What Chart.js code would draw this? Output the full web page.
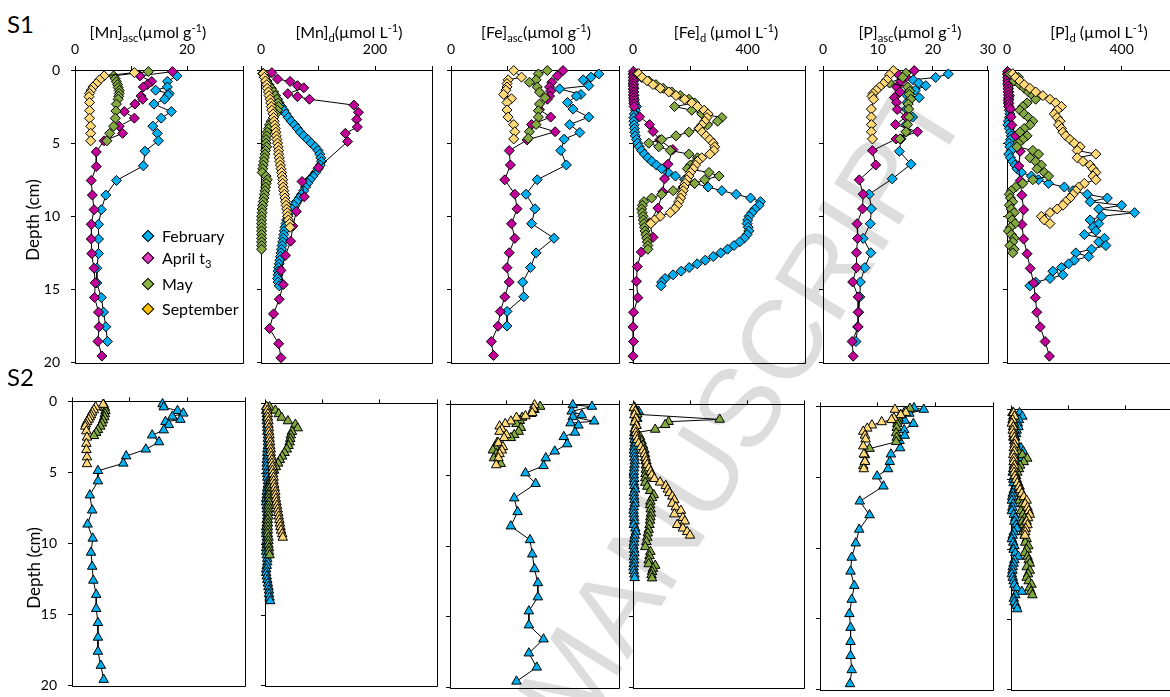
<!DOCTYPE html>
<html>
<head>
<meta charset="utf-8">
<script src="https://cdn.jsdelivr.net/npm/chart.js@4.4.1/dist/chart.umd.min.js"></script>
<style>
  html, body { margin: 0; padding: 0; background: #fff; }
  body { width: 1170px; height: 697px; position: relative; overflow: hidden; font-family: Lato, 'Open Sans', sans-serif; color: #000; }
  canvas { position: absolute; z-index: 1; }
  .lbl { position: absolute; z-index: 2; white-space: nowrap; line-height: 1; }
  .title { font-size: 16px; transform: translate(-50%, -50%); }
  .site { font-size: 24px; transform: translateY(-50%); }
  .depth { font-size: 17px; transform: translate(-50%, -50%) rotate(-90deg); }
  .legend { font-size: 16px; transform: translateY(-50%); }
  .mk { position: absolute; z-index: 2; width: 7px; height: 7px; border: 1px solid #000; transform: translate(-50%, -50%) rotate(45deg); }
  sub, sup { font-size: 0.7em; line-height: 0; }
  .wm { position: absolute; z-index: 0; left: 742px; top: 405px; font-family: 'Liberation Sans', sans-serif; font-size: 112px; line-height: 1; color: #DDDDDD; white-space: nowrap; transform: translate(-50%, -50%) rotate(-58deg); }
</style>
</head>
<body>
<div class="wm">MANUSCRIPT</div>

<div class="lbl site" style="left:7px; top:24px">S1</div>
<div class="lbl site" style="left:7px; top:377px">S2</div>
<div class="lbl depth" style="left:32px; top:220px">Depth (cm)</div>
<div class="lbl depth" style="left:33px; top:568px">Depth (cm)</div>

<div class="lbl title" style="left:148px; top:32px">[Mn]<sub>asc</sub>(µmol g<sup>-1</sup>)</div>
<div class="lbl title" style="left:349px; top:32px">[Mn]<sub>d</sub>(µmol L<sup>-1</sup>)</div>
<div class="lbl title" style="left:536px; top:32px">[Fe]<sub>asc</sub>(µmol g<sup>-1</sup>)</div>
<div class="lbl title" style="left:726px; top:32px">[Fe]<sub>d</sub> (µmol L<sup>-1</sup>)</div>
<div class="lbl title" style="left:910px; top:32px">[P]<sub>asc</sub>(µmol g<sup>-1</sup>)</div>
<div class="lbl title" style="left:1099px; top:32px">[P]<sub>d</sub> (µmol L<sup>-1</sup>)</div>

<div class="mk" style="left:148px; top:236px; background:#00B0F0"></div>
<div class="lbl legend" style="left:162px; top:236px">February</div>
<div class="mk" style="left:148px; top:258px; background:#E03CC0"></div>
<div class="lbl legend" style="left:162px; top:258px">April t<sub>3</sub></div>
<div class="mk" style="left:148px; top:284px; background:#8DB34A"></div>
<div class="lbl legend" style="left:162px; top:284px">May</div>
<div class="mk" style="left:148px; top:309px; background:#FFC000"></div>
<div class="lbl legend" style="left:162px; top:309px">September</div>

<script>
// shared depth grid (cm) for the gel probe profiles
const gelDepth = [0.25,0.5,0.75,1,1.25,1.5,1.75,2,2.25,2.5,2.75,3,3.25,3.5,3.75,4,4.25,4.5,4.75,5,
  5.25,5.5,5.75,6,6.25,6.5,6.75,7,7.25,7.5,7.75,8,8.25,8.5,8.75,9,9.25,9.5,9.75,10,
  10.25,10.5,10.75,11,11.25,11.5,11.75,12,12.25,12.5,12.75,13,13.25,13.5,13.75,14,14.25,14.5,14.75,15]

// ---- S1 [Mn]asc
const s1MnAscFebDepth = [0.4,0.78,1.16,1.38,1.6,1.73,2.0,2.33,2.84,3.29,3.84,4.33,4.84,5.55,6.55,7.55,8.55,9.55,10.55,11.55,12.55,13.55,14.55,15.55,16.55,17.55,18.55]
const s1MnAscFebVal = [18.2,16.5,16.5,14.4,16.8,16.6,16.0,14.1,17.2,15.4,13.9,14.7,14.9,12.5,12.2,7.4,5.5,4.7,4.2,4.2,4.2,3.9,3.9,4.7,5.1,5.5,5.8]
const s1MnAscAprDepth = [0.11,0.4,0.78,1.0,1.16,1.78,2.0,2.33,2.84,3.29,3.84,4.33,4.84,5.6,6.6,7.55,8.55,9.55,10.55,11.55,12.55,13.55,14.55,15.55,16.55,17.55,18.55,19.55]
const s1MnAscAprVal = [17.4,11.6,13.7,12.9,12.2,11.8,12.1,10.7,8.8,10.6,7.9,8.5,5.2,3.8,3.8,2.9,3.1,3.4,2.9,2.9,3.0,3.4,3.6,3.5,4.2,4.3,4.1,4.8]
const s1MnAscMayDepth = [0.11,0.4,0.6,0.8,1.0,1.2,1.4,1.6,1.8,2.0,2.33,2.8,3.3,3.84,4.33,4.84]
const s1MnAscMayVal = [13.1,6.9,7.2,7.4,7.6,7.7,7.9,7.9,7.8,7.7,7.4,7.3,7.2,6.9,6.2,5.7]
const s1MnAscSepDepth = [0.18,0.4,0.67,0.93,1.16,1.38,1.6,1.82,2.22,2.78,3.3,3.84,4.33,4.84]
const s1MnAscSepVal = [10.6,5.2,4.4,3.8,3.2,2.9,2.6,2.5,2.6,2.6,2.6,2.8,2.8,2.8]

// ---- S1 [Mn]d
const s1MnDFebVal = [4,7,10,13,17,21,25,29,32,36,40,44,48,53,59,64,69,75,82,88,95,100,103,105,106,104,100,96,91,86,
  82,78,75,71,67,62,58,54,50,47,45,44,42,41,40,39,38,37,36,35,34,33,32,31,30,30,29,30,32]
const s1MnDAprDepth = [0.18,0.62,0.78,1.07,1.22,1.62,1.82,2.0,2.4,2.89,3.38,3.9,4.33,4.89,6.67,7.62,8.67,9.67,10.67,11.7,12.67,13.7,14.67,15.67,16.67,17.67,18.71,19.67]
const s1MnDAprVal = [19,29,51,64,75,47,64,85,163,171,168,169,148,152,101,72,76,62,56,52,43,35,39,32,22,15,31,35]
const s1MnDMayVal = [3,6,10,14,18,22,25,28,30,31,29,26,22,18,15,13,11,10,9,9,10,8,7,6,5,4,3,2,9,11,
  9,8,7,6,5,4,3,2,2,1,1,1,1,1,1,1,1,1,1]
const s1MnDSepVal = [4,6,8,10,11,13,14,16,17,18,19,21,22,23,24,25,26,27,28,29,30,31,31,32,33,34,35,36,37,38,
  38,39,40,41,42,43,44,45,46,47,48,50,51]

// ---- S1 [Fe]asc
const s1FeAscFebDepth = [0.27,0.49,0.67,1.07,1.29,1.67,1.78,2.22,2.67,3.22,3.73,4.27,4.73,5.5,6.49,7.5,8.49,9.49,10.5,11.5,12.5,13.5,14.5,15.5,16.5,17.5]
const s1FeAscFebVal = [132,125,118,123,97,116,112,104,109,123,106,115,101,98,103,77,67,75,72,92,76,71,64,65,50,50]
const s1FeAscAprDepth = [0.04,0.4,0.84,1.16,1.44,1.78,2.0,2.71,3.22,3.73,4.22,4.78,5.51,6.49,7.51,8.49,9.49,10.51,11.51,12.49,13.51,14.49,15.51,16.51,17.51,18.56,19.51]
const s1FeAscAprVal = [100,95,90,88,89,88,86,79,89,72,93,68,52,53,48,57,59,54,57,52,50,52,48,44,42,36,38]
const s1FeAscMayDepth = [0.04,0.27,0.67,0.84,1.16,1.51,1.89,2.33,2.78,3.22,3.73,4.22,4.67]
const s1FeAscMayVal = [86,78,76,70,77,79,84,79,78,78,76,70,69]
const s1FeAscSepDepth = [0.04,0.49,0.67,0.93,1.16,1.38,1.67,1.96,2.22,2.73,3.22,3.73,4.22,4.71]
const s1FeAscSepVal = [56,63,51,50,50,49,47,54,50,50,51,56,57,56]

// ---- S1 [Fe]d
const s1FeDFebVal = [2,2,2,2,3,3,3,4,5,12,8,5,3,3,4,5,6,8,12,16,22,30,40,52,66,82,100,122,148,180,
  215,262,310,360,410,445,440,425,415,405,400,398,402,404,398,388,372,352,330,306,280,252,224,196,168,140,112,100,98]
const s1FeDAprDepth = [0.1,0.3,0.5,0.7,0.9,1.1,1.3,1.5,1.7,1.9,2.1,2.3,2.5,3.2,3.73,4.2,4.78,5.44,6.44,7.44,8.33,9.44,10.44,11.44,12.44,13.44,14.44,15.56,16.56,17.56,18.56,19.56]
const s1FeDAprVal = [1,1,1,1,1,1,1,2,2,2,3,3,4,23,58,70,93,139,122,110,104,87,58,70,29,15,12,17,2,0,2,0]
const s1FeDMayVal = [15,30,55,80,105,135,165,195,215,145,205,240,310,295,260,230,195,150,100,55,90,130,195,225,220,200,190,265,300,250,
  215,175,140,100,65,38,33,30,32,35,36,38,40,42,45,48,50,52,52]
const s1FeDSepVal = [20,32,50,70,95,125,150,180,205,225,248,262,258,250,240,232,242,255,268,280,285,282,268,240,225,218,210,200,195,188,
  182,178,175,170,166,160,155,145,130,95,75,62]

// ---- S1 [P]asc
const s1PAscFebDepth = [0.27,0.51,0.67,0.89,1.07,1.38,1.67,1.89,2.22,2.67,3.22,3.73,4.22,4.71,5.56,6.44,7.44,8.49,9.49,10.51,11.51,12.49,13.51,14.49,15.51,16.56,17.56,18.56]
const s1PAscFebVal = [22.8,20.5,16.4,17.4,18.7,16.8,15.1,17.5,15.3,15.2,16.3,15.1,15.2,14.2,13.9,16.0,12.6,8.4,8.8,8.6,7.3,8.7,7.6,6.8,6.7,6.5,6.3,6.0]
const s1PAscAprDepth = [0.04,0.27,0.49,0.78,1.16,1.5,1.89,2.22,2.7,3.22,3.73,4.22,4.71,5.51,6.49,7.51,8.49,9.49,10.51,11.51,12.49,13.51,14.49,15.51,16.56,17.56,18.56,19.56]
const s1PAscAprVal = [16.6,13.6,15.1,14.2,13.4,14.0,13.0,13.4,13.5,15.1,13.2,17.2,13.3,9.0,9.6,6.6,7.3,7.2,6.2,6.3,6.1,6.1,5.4,6.4,6.4,6.4,5.3,5.5]
const s1PAscMayDepth = [0.22,0.5,0.89,1.16,1.45,1.67,2.0,2.33,2.67,3.22,3.73,4.22,4.71]
const s1PAscMayVal = [15.1,14.5,12.1,15.4,15.8,15.7,16.0,15.5,15.6,15.7,15.4,15.1,14.0]
const s1PAscSepDepth = [0.04,0.33,0.67,0.93,1.16,1.38,1.6,1.8,2.0,2.67,3.22,3.73,4.22,4.71]
const s1PAscSepVal = [12.8,12.1,11.6,11.0,10.3,9.7,9.1,8.9,9.2,8.8,8.8,8.8,8.8,9.0]

// ---- S1 [P]d
const s1PDFebVal = [3,3,4,4,5,6,8,6,5,6,8,10,8,5,3,8,12,15,12,8,10,15,6,12,20,28,35,50,85,110,
  145,200,230,280,350,290,400,320,445,330,290,320,300,310,270,340,320,345,295,240,285,235,215,190,160,195,150,100,80]
const s1PDAprDepth = [0.1,0.3,0.5,0.7,0.9,1.1,1.3,1.5,1.7,1.9,2.1,2.3,2.5,2.67,3.2,3.78,4.5,5.56,6.56,7.56,8.56,9.56,10.56,11.56,12.56,13.56,14.56,15.56,16.56,17.56,18.56,19.56]
const s1PDAprVal = [2,2,3,3,3,4,4,4,5,5,5,6,6,12,14,17,30,46,41,46,52,58,52,58,70,81,93,99,104,116,133,148]
const s1PDMayVal = [10,40,25,45,60,75,90,100,70,55,45,60,75,90,80,60,45,70,55,40,35,90,110,80,100,120,105,130,145,90,
  55,30,15,8,12,20,8,15,25,10,18,28,12,5,15,25,20,10,25,20]
const s1PDSepVal = [20,30,45,60,80,100,125,150,170,190,175,165,175,185,180,190,195,205,220,235,255,245,310,245,265,290,300,310,300,310,
  270,250,240,230,220,205,195,175,150,120,130,150]

// ---- S2 [Mn]asc
const s2MnAscFebDepth = [0.18,0.4,0.66,0.84,1.06,1.28,1.43,1.65,2.02,2.38,2.86,3.37,3.85,4.36,4.88,5.61,6.6,7.66,8.65,9.64,10.63,11.62,12.6,13.6,14.59,15.58,16.61,17.6,18.59,19.58]
const s2MnAscFebVal = [15.7,15.9,18.3,19.3,17.4,18.8,16.2,16.8,15.9,13.9,15.1,12.8,9.4,8.9,4.5,4.5,3.1,3.5,2.7,3.6,3.3,3.5,3.7,4.2,4.2,4.5,4.5,4.5,5.0,5.5]
const s2MnAscMayDepth = [0.22,0.44,0.66,0.88,1.1,1.32,1.54,1.76,2.0,2.2,2.42]
const s2MnAscMayVal = [5.5,5.7,5.8,5.7,5.6,5.4,5.2,4.9,4.5,4.2,3.8]
const s2MnAscSepDepth = [0.22,0.4,0.6,0.77,0.95,1.1,1.27,1.43,1.6,1.76,2.09,2.53,2.97,3.41,3.92,4.4]
const s2MnAscSepVal = [5.4,4.1,3.8,3.5,3.3,3.1,2.9,2.6,2.4,2.3,2.5,2.6,2.5,2.5,2.6,2.6]

// ---- S2 [Mn]d
const s2MnDFebVal = [2,2,3,3,3,4,4,4,5,5,5,5,4,4,4,3,3,3,4,4,4,5,5,4,3,3,2,2,3,3,
  4,4,3,3,2,2,2,3,3,3,2,2,3,4,4,3,2,2,3,4,5,6,7,7,8,9]
const s2MnDMayVal = [8,18,24,29,40,53,57,47,45,44,43,41,38,34,30,26,23,19,16,13,11,10,9,8,8,7,7,7,6,6,
  6,6,5,5,5,5,5,6,6,6,7,7,8]
const s2MnDSepVal = [3,4,5,5,6,6,7,7,8,8,9,9,10,10,11,12,12,13,13,14,15,15,16,17,18,18,19,20,21,22,
  23,24,25,26,27,28,30,31]

// ---- S2 [Fe]asc
const s2FeAscFebDepth = [0.04,0.15,0.49,0.75,0.88,1.19,1.32,1.48,1.98,2.29,2.8,3.31,3.79,4.34,4.85,5.6,6.62,7.59,8.6,9.57,10.58,11.62,12.61,13.61,14.6,15.59,16.58,17.57,18.57,19.56]
const s2FeAscFebVal = [109,126,108,117,109,128,107,114,111,101,104,93,85,83,67,76,57,60,54,71,73,75,78,78,70,70,83,70,77,59]
const s2FeAscMayDepth = [0.15,0.37,0.66,0.93,1.15,1.37,1.65,1.92,2.15,2.36,2.69,3.0,3.24,3.5,3.79,4.19]
const s2FeAscMayVal = [80,75,72,64,62,59,63,61,57,54,42,40,38,41,39,45]
const s2FeAscSepDepth = [0.04,0.3,0.6,0.82,0.93,1.19,1.37,1.54,1.75,1.92,2.15,2.36,2.73,3.0,3.24,3.5,3.79,4.28]
const s2FeAscSepVal = [75,74,73,67,59,54,49,44,46,44,50,48,43,47,46,44,43,41]

// ---- S2 [Fe]d
const s2FeDFebVal = [5,20,10,15,8,12,6,5,4,5,6,4,3,4,5,6,5,4,3,3,4,3,5,7,3,4,5,6,3,2,
  3,4,5,3,8,10,6,4,3,2,4,5,3,4,3,2,3,5,6]
const s2FeDMayDepth = [0.2,0.45,0.7,1.06,1.22,1.44,1.77,2.0,2.3,2.6,2.9,3.2,3.5,3.76,4.0,4.3,4.6,4.9,5.2,5.52,5.8,6.1,6.4,6.6,6.85,7.1,7.4,7.7,7.96,8.2,
  8.5,8.84,9.1,9.4,9.7,10.06,10.4,10.7,11.0,11.27,11.38,11.6,11.82,12.05,12.27]
const s2FeDMayVal = [5,10,15,304,125,113,78,10,25,30,35,40,42,43,44,45,45,44,43,43,50,60,73,67,61,60,62,63,61,60,
  58,55,52,50,47,43,61,58,55,55,78,70,67,65,67]
const s2FeDSepVal = [3,8,5,10,6,12,8,10,12,15,20,28,35,40,44,47,50,56,62,66,75,95,115,122,128,138,145,138,150,168,
  145,175,182,155,175,190,200]

// ---- S2 [P]asc
const s2PAscFebDepth = [0.11,0.22,0.5,0.75,1.0,1.22,1.66,2.06,2.43,2.94,3.38,3.91,4.42,4.93,5.64,6.7,7.67,8.69,9.66,10.67,11.65,12.66,13.64,14.65,15.62,16.62,17.61,18.61,19.6]
const s2PAscFebVal = [16.3,18.0,15.5,14.2,14.7,16.2,14.6,14.7,13.8,13.9,12.3,12.1,11.8,9.9,11.0,6.9,8.6,6.8,6.2,5.5,5.3,5.95,5.5,5.1,5.3,5.3,5.3,5.5,5.2]
const s2PAscMayDepth = [0.15,0.38,0.6,0.85,1.05,1.22,1.5,1.88,2.2,2.5,2.98,3.43,3.87,4.2]
const s2PAscMayVal = [15.6,14.7,14.0,13.6,13.5,13.4,13.3,13.2,13.3,13.2,8.6,7.8,7.8,7.5]
const s2PAscSepDepth = [0.22,0.44,0.6,0.82,0.95,1.1,1.33,1.55,1.77,2.05,2.32,2.81,3.38,3.91,4.42]
const s2PAscSepVal = [13.0,14.9,14.0,12.8,12.4,10.7,9.0,8.2,7.5,7.8,7.9,7.5,7.6,7.8,7.6]

// ---- S2 [P]d
const s2PDFebVal = [30,40,28,24,26,20,18,15,12,20,35,43,30,38,20,10,8,6,12,8,9,15,10,6,4,3,8,5,3,10,
  15,12,18,21,10,6,3,8,12,9,15,26,12,9,6,5,3,6,9,12,20,38,15,10,12,18,22]
const s2PDMayVal = [5,8,6,10,8,12,10,8,12,15,18,25,40,57,45,32,28,22,18,20,25,30,28,38,35,30,40,45,35,42,
  48,40,45,50,42,48,55,50,61,55,48,58,62,66,55,66,60,55,62,72,65,70,75]
const s2PDSepVal = [9,12,6,3,8,6,9,12,15,12,10,11,8,10,9,12,10,11,14,18,22,28,32,38,45,55,50,58,62,66,
  60,55,58,52,50,49]

const colFeb = '#00B0F0'
const colApr = '#C4009A'
const colMay = '#84A940'
const colSep = '#FFD978'

const framePlugin = {
    id: 'frame',
    beforeDatasetsDraw(chart) {
        const { ctx, chartArea: a } = chart
        const r = Math.round(a.right) + 0.5
        const b = Math.round(a.bottom) + 0.5
        ctx.save()
        ctx.strokeStyle = '#000'
        ctx.lineWidth = 1
        ctx.beginPath()
        ctx.moveTo(Math.round(a.left), b)
        ctx.lineTo(r, b)
        ctx.lineTo(r, Math.round(a.top))
        ctx.stroke()
        ctx.restore()
    },
}

function series(depths, values, color, marker, order) {
    return {
        data: values.map((v, i) => ({ x: v, y: depths[i] })),
        showLine: true,
        borderColor: '#000',
        borderWidth: 1,
        pointStyle: marker,
        pointRadius: marker === 'triangle' ? 5.5 : 5,
        pointBackgroundColor: color,
        pointBorderColor: '#000',
        pointBorderWidth: 1,
        order,
        clip: false,
    }
}

function makePanel(box, xMax, xStep, labelEvery, isFirst, isTop, datasets) {
    const yw = 40
    const xh = isTop ? 30 : 8
    const padR = 14
    const padB = 12
    const canvas = document.createElement('canvas')
    canvas.width = yw + (box.r - box.l) + padR
    canvas.height = xh + (box.b - box.t) + padB
    canvas.style.left = (box.l - yw) + 'px'
    canvas.style.top = (box.t - xh) + 'px'
    document.body.appendChild(canvas)

    const axisGrid = { drawOnChartArea: false, drawTicks: true, tickLength: 4, color: '#000' }
    const axisBorder = { display: true, color: '#000', width: 1 }

    new Chart(canvas, {
        type: 'scatter',
        data: { datasets },
        options: {
            responsive: false,
            animation: false,
            layout: { padding: { top: 0, left: 0, right: padR, bottom: padB } },
            plugins: { legend: { display: false }, tooltip: { enabled: false } },
            scales: {
                x: {
                    type: 'linear',
                    position: 'top',
                    min: 0,
                    max: xMax,
                    ticks: {
                        stepSize: xStep,
                        autoSkip: false,
                        maxRotation: 0,
                        padding: 8,
                        color: '#000',
                        font: { family: 'Lato', size: 14 },
                        callback: (v) => (isTop && v % labelEvery === 0 ? String(v) : ''),
                    },
                    grid: axisGrid,
                    border: axisBorder,
                    afterFit: (s) => { s.height = xh },
                },
                y: {
                    type: 'linear',
                    position: 'left',
                    reverse: true,
                    min: 0,
                    max: 20,
                    ticks: {
                        stepSize: 5,
                        autoSkip: false,
                        padding: 11,
                        color: '#000',
                        font: { family: 'Lato', size: 14 },
                        callback: (v) => (isFirst ? String(v) : ''),
                    },
                    grid: axisGrid,
                    border: axisBorder,
                    afterFit: (s) => { s.width = yw },
                },
            },
        },
        plugins: [framePlugin],
    })
}

const D = 'rectRot'
const T = 'triangle'

const topBoxes = [
    { l: 75, r: 243, t: 70, b: 370 },
    { l: 261, r: 432, t: 70, b: 370 },
    { l: 451, r: 619, t: 70, b: 370 },
    { l: 633, r: 805, t: 70, b: 370 },
    { l: 823, r: 990, t: 70, b: 370 },
    { l: 1007, r: 1179, t: 70, b: 370 },
]
const bottomBoxes = [
    { l: 72, r: 245, t: 390, b: 693 },
    { l: 265, r: 437, t: 392, b: 693 },
    { l: 450, r: 619, t: 393, b: 695 },
    { l: 633, r: 804, t: 393, b: 695 },
    { l: 820, r: 993, t: 395, b: 697 },
    { l: 1011, r: 1182, t: 398, b: 697 },
]

// S1 row
makePanel(topBoxes[0], 30, 10, 20, true, true, [
    series(s1MnAscFebDepth, s1MnAscFebVal, colFeb, D, 4),
    series(s1MnAscAprDepth, s1MnAscAprVal, colApr, D, 3),
    series(s1MnAscMayDepth, s1MnAscMayVal, colMay, D, 2),
    series(s1MnAscSepDepth, s1MnAscSepVal, colSep, D, 1),
])
makePanel(topBoxes[1], 300, 100, 200, false, true, [
    series(gelDepth, s1MnDFebVal, colFeb, D, 4),
    series(s1MnDAprDepth, s1MnDAprVal, colApr, D, 3),
    series(gelDepth, s1MnDMayVal, colMay, D, 2),
    series(gelDepth, s1MnDSepVal, colSep, D, 1),
])
makePanel(topBoxes[2], 150, 50, 100, false, true, [
    series(s1FeAscFebDepth, s1FeAscFebVal, colFeb, D, 4),
    series(s1FeAscAprDepth, s1FeAscAprVal, colApr, D, 3),
    series(s1FeAscMayDepth, s1FeAscMayVal, colMay, D, 2),
    series(s1FeAscSepDepth, s1FeAscSepVal, colSep, D, 1),
])
makePanel(topBoxes[3], 600, 200, 400, false, true, [
    series(gelDepth, s1FeDFebVal, colFeb, D, 4),
    series(s1FeDAprDepth, s1FeDAprVal, colApr, D, 3),
    series(gelDepth, s1FeDMayVal, colMay, D, 2),
    series(gelDepth, s1FeDSepVal, colSep, D, 1),
])
makePanel(topBoxes[4], 30, 10, 10, false, true, [
    series(s1PAscFebDepth, s1PAscFebVal, colFeb, D, 4),
    series(s1PAscAprDepth, s1PAscAprVal, colApr, D, 3),
    series(s1PAscMayDepth, s1PAscMayVal, colMay, D, 2),
    series(s1PAscSepDepth, s1PAscSepVal, colSep, D, 1),
])
makePanel(topBoxes[5], 600, 200, 400, false, true, [
    series(gelDepth, s1PDFebVal, colFeb, D, 4),
    series(s1PDAprDepth, s1PDAprVal, colApr, D, 3),
    series(gelDepth, s1PDMayVal, colMay, D, 2),
    series(gelDepth, s1PDSepVal, colSep, D, 1),
])

// S2 row
makePanel(bottomBoxes[0], 30, 10, 20, true, false, [
    series(s2MnAscFebDepth, s2MnAscFebVal, colFeb, T, 4),
    series(s2MnAscMayDepth, s2MnAscMayVal, colMay, T, 2),
    series(s2MnAscSepDepth, s2MnAscSepVal, colSep, T, 1),
])
makePanel(bottomBoxes[1], 300, 100, 200, false, false, [
    series(gelDepth, s2MnDFebVal, colFeb, T, 4),
    series(gelDepth, s2MnDMayVal, colMay, T, 2),
    series(gelDepth, s2MnDSepVal, colSep, T, 1),
])
makePanel(bottomBoxes[2], 150, 50, 100, false, false, [
    series(s2FeAscFebDepth, s2FeAscFebVal, colFeb, T, 4),
    series(s2FeAscMayDepth, s2FeAscMayVal, colMay, T, 2),
    series(s2FeAscSepDepth, s2FeAscSepVal, colSep, T, 1),
])
makePanel(bottomBoxes[3], 600, 200, 400, false, false, [
    series(gelDepth, s2FeDFebVal, colFeb, T, 4),
    series(s2FeDMayDepth, s2FeDMayVal, colMay, T, 2),
    series(gelDepth, s2FeDSepVal, colSep, T, 1),
])
makePanel(bottomBoxes[4], 30, 10, 10, false, false, [
    series(s2PAscFebDepth, s2PAscFebVal, colFeb, T, 4),
    series(s2PAscMayDepth, s2PAscMayVal, colMay, T, 2),
    series(s2PAscSepDepth, s2PAscSepVal, colSep, T, 1),
])
makePanel(bottomBoxes[5], 600, 200, 400, false, false, [
    series(gelDepth, s2PDFebVal, colFeb, T, 4),
    series(gelDepth, s2PDMayVal, colMay, T, 2),
    series(gelDepth, s2PDSepVal, colSep, T, 1),
])
</script>
</body>
</html>
